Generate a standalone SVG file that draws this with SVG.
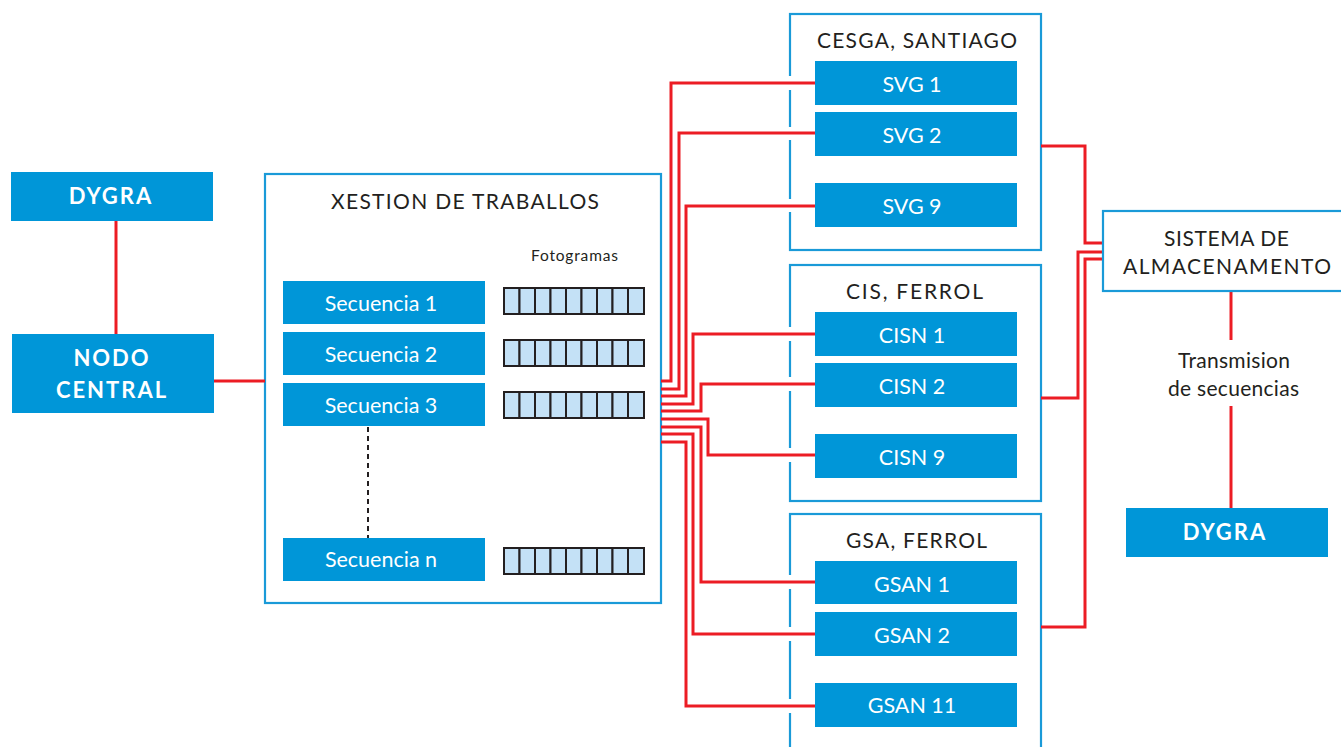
<svg xmlns="http://www.w3.org/2000/svg" width="1341" height="747" viewBox="0 0 1341 747">
<style>
.box{fill:#0096d8}
.frame{fill:#fff;stroke:#1a9ad8;stroke-width:2.2}
.wt{font-family:Lato,"Open Sans",sans-serif;font-size:21.5px;fill:#fff;text-anchor:middle}
.wb{font-family:Lato,"Open Sans",sans-serif;font-size:22px;font-weight:bold;fill:#fff;text-anchor:middle;letter-spacing:2px}
.dt{font-family:Lato,"Open Sans",sans-serif;font-size:21px;fill:#231f20;text-anchor:middle}
.st{font-family:Lato,"Open Sans",sans-serif;font-size:15.5px;fill:#231f20;text-anchor:middle}
.red{fill:none;stroke:#ec1c24;stroke-width:3}
.gap{stroke:#fff;stroke-width:12}
.cell{fill:#c4e1f6;stroke:#231f20;stroke-width:2}
</style>
<defs>
<g id="strip">
<rect class="cell" x="0" y="0" width="15.5" height="26"/>
<rect class="cell" x="15.5" y="0" width="15.5" height="26"/>
<rect class="cell" x="31" y="0" width="15.5" height="26"/>
<rect class="cell" x="46.5" y="0" width="15.5" height="26"/>
<rect class="cell" x="62" y="0" width="15.5" height="26"/>
<rect class="cell" x="77.5" y="0" width="15.5" height="26"/>
<rect class="cell" x="93" y="0" width="15.5" height="26"/>
<rect class="cell" x="108.5" y="0" width="15.5" height="26"/>
<rect class="cell" x="124" y="0" width="16" height="26"/>
</g>
</defs>
<rect width="1341" height="747" fill="#fff"/>

<!-- frames -->
<g id="xestion">
<rect class="frame" x="265" y="174" width="396" height="429"/>
<text class="dt" x="465" y="209" textLength="268" lengthAdjust="spacing">XESTION DE TRABALLOS</text>
<text class="st" x="574.5" y="261" textLength="87" lengthAdjust="spacing">Fotogramas</text>
</g>
<g id="cesga">
<rect class="frame" x="790" y="14" width="251" height="236"/>
<text class="dt" x="917" y="48" textLength="200" lengthAdjust="spacing">CESGA, SANTIAGO</text>
</g>
<g id="cis">
<rect class="frame" x="790" y="265" width="251" height="236"/>
<text class="dt" x="914.5" y="299" textLength="137" lengthAdjust="spacing">CIS, FERROL</text>
</g>
<g id="gsa">
<rect class="frame" x="790" y="514" width="251" height="250"/>
<text class="dt" x="916.5" y="548" textLength="141" lengthAdjust="spacing">GSA, FERROL</text>
</g>

<!-- connectors -->
<g id="connectors">
<line x1="116" y1="221" x2="116" y2="334" class="red"/>
<line x1="214" y1="381" x2="265" y2="381" class="red"/>
<line x1="368" y1="427" x2="368" y2="538" stroke="#231f20" stroke-width="2" stroke-dasharray="5,4"/>
<g class="gap">
<line x1="790" y1="76" x2="790" y2="90"/>
<line x1="790" y1="127" x2="790" y2="140"/>
<line x1="790" y1="199" x2="790" y2="212"/>
<line x1="790" y1="327" x2="790" y2="341"/>
<line x1="790" y1="377" x2="790" y2="391"/>
<line x1="790" y1="448" x2="790" y2="462"/>
<line x1="790" y1="575" x2="790" y2="589"/>
<line x1="790" y1="627" x2="790" y2="641"/>
<line x1="790" y1="699" x2="790" y2="713"/>
</g>
<path class="red" d="M661,381 H671 V83 H815"/>
<path class="red" d="M661,389 H679 V133 H815"/>
<path class="red" d="M661,396 H686 V206 H815"/>
<path class="red" d="M661,404 H693 V334 H815"/>
<path class="red" d="M661,411 H701 V384 H815"/>
<path class="red" d="M661,419 H708 V455 H815"/>
<path class="red" d="M661,427 H701 V582 H815"/>
<path class="red" d="M661,434 H693 V634 H815"/>
<path class="red" d="M661,442 H686 V706 H815"/>
<path class="red" d="M1041,146 H1085 V243 H1103"/>
<path class="red" d="M1103,252 H1078 V398 H1041"/>
<path class="red" d="M1103,259 H1085 V627 H1041"/>
<line class="red" x1="1231" y1="291" x2="1231" y2="340"/>
<line class="red" x1="1231" y1="406" x2="1231" y2="508"/>
</g>

<!-- nodes -->
<g id="dygra-left"><rect class="box" x="11" y="172" width="202" height="49"/><text class="wb" x="111" y="204">DYGRA</text></g>
<g id="nodo-central"><rect class="box" x="12" y="334" width="202" height="79"/><text class="wb" x="112" y="366">NODO</text><text class="wb" x="112" y="398">CENTRAL</text></g>

<g id="secuencia-1"><rect class="box" x="283" y="281" width="202" height="43"/><text class="wt" x="381" y="311">Secuencia 1</text></g>
<g id="secuencia-2"><rect class="box" x="283" y="332" width="202" height="43"/><text class="wt" x="381" y="362">Secuencia 2</text></g>
<g id="secuencia-3"><rect class="box" x="283" y="383" width="202" height="43"/><text class="wt" x="381" y="413">Secuencia 3</text></g>
<g id="secuencia-n"><rect class="box" x="283" y="538" width="202" height="43"/><text class="wt" x="381" y="567">Secuencia n</text></g>

<g id="fotogramas">
<use href="#strip" x="504" y="288"/>
<use href="#strip" x="504" y="340"/>
<use href="#strip" x="504" y="392"/>
<use href="#strip" x="504" y="548"/>
</g>

<g id="svg1"><rect class="box" x="815" y="61" width="202" height="44"/><text class="wt" x="912" y="92">SVG 1</text></g>
<g id="svg2"><rect class="box" x="815" y="112" width="202" height="44"/><text class="wt" x="912" y="143">SVG 2</text></g>
<g id="svg9"><rect class="box" x="815" y="183" width="202" height="44"/><text class="wt" x="912" y="214">SVG 9</text></g>

<g id="cisn1"><rect class="box" x="815" y="312" width="202" height="44"/><text class="wt" x="912" y="343">CISN 1</text></g>
<g id="cisn2"><rect class="box" x="815" y="363" width="202" height="44"/><text class="wt" x="912" y="394">CISN 2</text></g>
<g id="cisn9"><rect class="box" x="815" y="434" width="202" height="44"/><text class="wt" x="912" y="465">CISN 9</text></g>

<g id="gsan1"><rect class="box" x="815" y="561" width="202" height="43"/><text class="wt" x="912" y="592">GSAN 1</text></g>
<g id="gsan2"><rect class="box" x="815" y="612" width="202" height="44"/><text class="wt" x="912" y="643">GSAN 2</text></g>
<g id="gsan11"><rect class="box" x="815" y="683" width="202" height="44"/><text class="wt" x="912" y="713">GSAN 11</text></g>

<g id="almacenamento">
<rect class="frame" x="1103" y="211" width="250" height="80"/>
<text class="dt" x="1226.5" y="246" textLength="125" lengthAdjust="spacing">SISTEMA DE</text>
<text class="dt" x="1227" y="274" textLength="208" lengthAdjust="spacing">ALMACENAMENTO</text>
</g>
<g id="transmision">
<text class="dt" x="1234" y="368" textLength="112" lengthAdjust="spacing">Transmision</text>
<text class="dt" x="1233.5" y="396" textLength="131" lengthAdjust="spacing">de secuencias</text>
</g>
<g id="dygra-right"><rect class="box" x="1126" y="508" width="202" height="49"/><text class="wb" x="1225" y="540">DYGRA</text></g>
</svg>
